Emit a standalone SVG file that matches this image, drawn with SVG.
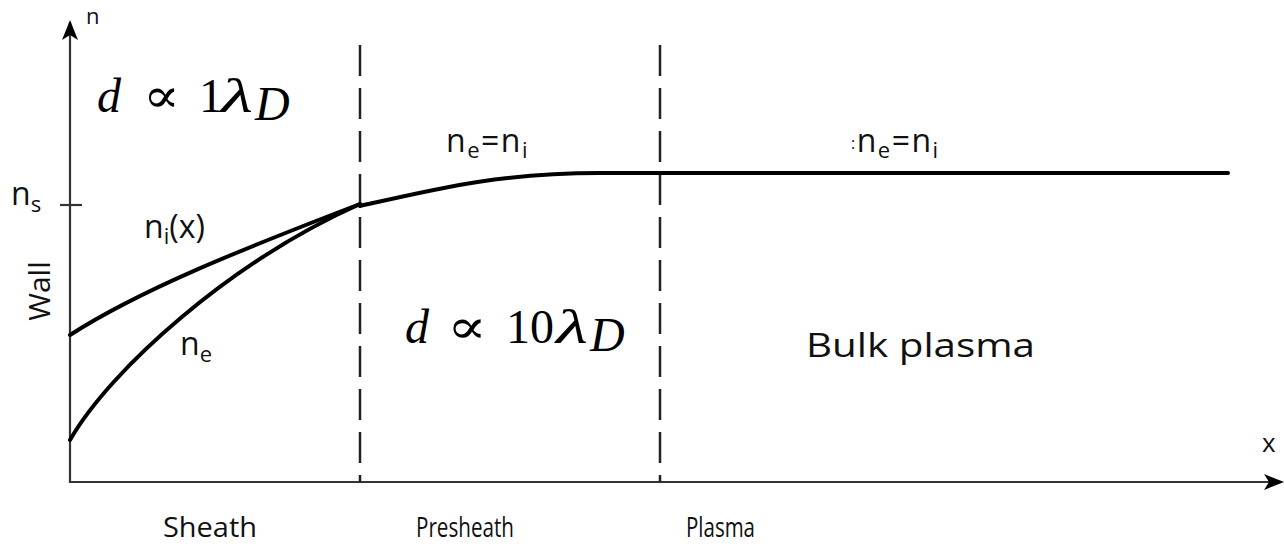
<svg xmlns="http://www.w3.org/2000/svg" width="1284" height="546" viewBox="0 0 1284 546">
<style>
.ax{stroke:#333;stroke-width:2.2;fill:none}
.cv{stroke:#000;stroke-width:4;fill:none;stroke-linecap:round}
.dash{stroke:#222;stroke-width:2.5;fill:none;stroke-dasharray:31 12}
.lb{font-family:"Open Sans","Liberation Sans",sans-serif;fill:#111}
.mth{font-family:"Liberation Serif","DejaVu Serif",serif;fill:#000;font-size:48px}
.it{font-style:italic}
</style>
<defs>
<marker id="ah" viewBox="0 0 20 16" refX="18" refY="8" markerWidth="20" markerHeight="16" markerUnits="userSpaceOnUse" orient="auto">
<path d="M0,0 L20,8 L0,16 L5,8 Z" fill="#000"/>
</marker>
</defs>
<g id="axes">
<line class="ax" x1="70" y1="483" x2="70" y2="22" marker-end="url(#ah)"/>
<line class="ax" x1="70" y1="482" x2="1282" y2="482" marker-end="url(#ah)"/>
<line class="ax" x1="60" y1="205" x2="82" y2="205"/>
</g>
<g id="connectors">
<line class="dash" x1="360" y1="45" x2="360" y2="482"/>
<line class="dash" x1="660" y1="45" x2="660" y2="482"/>
</g>
<g id="curves">
<path class="cv" d="M70,335 C140,290 240,250 360,204"/>
<path class="cv" d="M70,440 C110,370 230,262 360,204"/>
<path class="cv" d="M360,206 C440,188 500,173 600,173 L1228,173"/>
</g>
<g id="labels">
<text class="lb" x="86" y="24" font-size="22">n</text>
<text class="lb" x="11" y="205" font-size="32">n<tspan font-size="22" dy="7">s</tspan></text>
<text class="lb" x="144" y="238" font-size="32">n<tspan font-size="22" dy="6">i</tspan><tspan dy="-6">(x)</tspan></text>
<text class="lb" x="180" y="355" font-size="32">n<tspan font-size="22" dy="7">e</tspan></text>
<text class="lb" x="446" y="152" font-size="32" letter-spacing="1.5">n<tspan font-size="22" dy="6">e</tspan><tspan dy="-6">=n</tspan><tspan font-size="22" dy="6">i</tspan></text>
<text class="lb" x="851" y="152" font-size="32" letter-spacing="1.5"><tspan font-size="16" dy="-3">:</tspan><tspan dy="3">n</tspan><tspan font-size="22" dy="6">e</tspan><tspan dy="-6">=n</tspan><tspan font-size="22" dy="6">i</tspan></text>
<text class="lb" transform="translate(50,291) rotate(-90)" font-size="30" text-anchor="middle">Wall</text>
<text class="lb" x="163" y="537" font-size="28" textLength="94" lengthAdjust="spacingAndGlyphs">Sheath</text>
<text class="lb" x="416" y="537" font-size="28" textLength="98" lengthAdjust="spacingAndGlyphs">Presheath</text>
<text class="lb" x="686" y="537" font-size="28" textLength="69" lengthAdjust="spacingAndGlyphs">Plasma</text>
<text class="lb" x="1262" y="452" font-size="26">x</text>
<text class="lb" x="806" y="357" font-size="32" textLength="229" lengthAdjust="spacingAndGlyphs">Bulk plasma</text>
</g>
<g id="math1">
<text class="mth it" x="97" y="112">d</text>
<text class="mth" x="143" y="112" textLength="37" lengthAdjust="spacingAndGlyphs">∝</text>
<text class="mth" x="199" y="112">1</text>
<text class="mth it" x="221" y="112" textLength="32" lengthAdjust="spacingAndGlyphs">λ</text>
<text class="mth it" x="255" y="120" font-size="34">D</text>
</g>
<g id="math2">
<text class="mth it" x="405" y="343">d</text>
<text class="mth" x="447" y="343" textLength="40" lengthAdjust="spacingAndGlyphs">∝</text>
<text class="mth" x="506" y="343">10</text>
<text class="mth it" x="556" y="343" textLength="32" lengthAdjust="spacingAndGlyphs">λ</text>
<text class="mth it" x="590" y="351" font-size="34">D</text>
</g>
</svg>
